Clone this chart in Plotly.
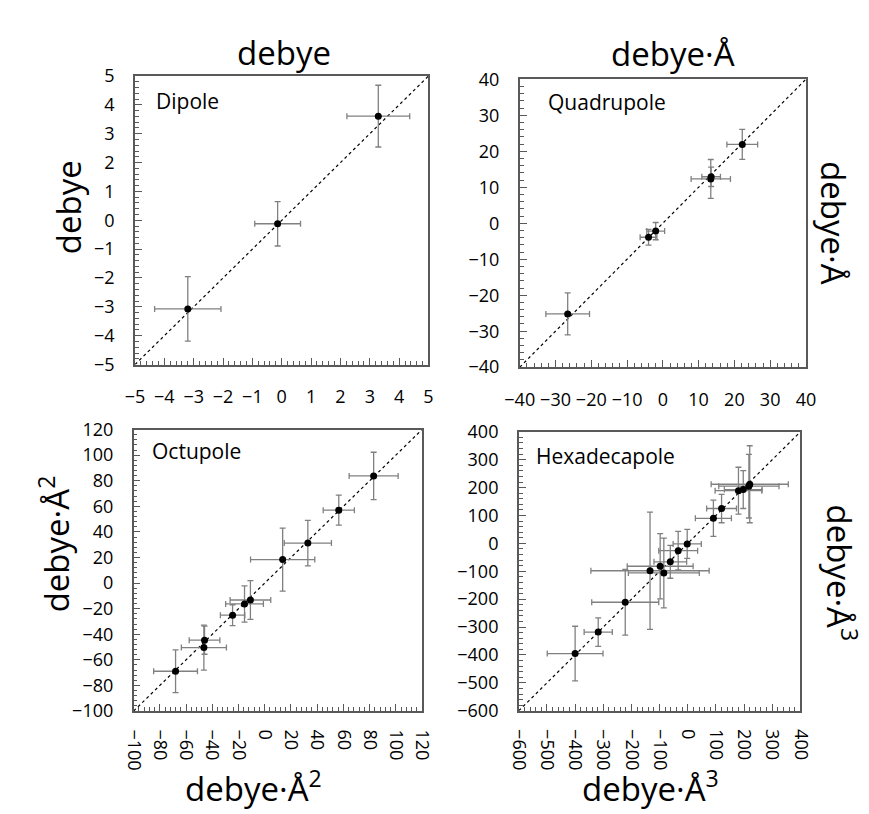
import plotly.graph_objects as go

# ---------------- data ----------------
dip_x = [-3.20, -0.14, 3.29]
dip_y = [-3.07, -0.12, 3.61]
dip_xe = [1.13, 0.78, 1.07]
dip_ye = [1.12, 0.77, 1.07]

quad_x = [-26.6, -4.0, -2.0, 13.4, 13.5, 22.2]
quad_y = [-25.2, -3.9, -2.2, 12.3, 12.9, 21.9]
quad_xe = [6.1, 2.35, 2.5, 5.5, 2.6, 4.3]
quad_ye = [5.85, 2.2, 2.4, 5.4, 2.7, 4.15]

oct_x = [-68.0, -46.4, -45.9, -24.5, -15.4, -10.9, 13.7, 32.9, 56.5, 83.1]
oct_y = [-68.9, -50.4, -44.6, -25.1, -16.3, -13.2, 18.4, 31.3, 57.0, 83.8]
oct_xe = [16.7, 17.2, 11.7, 9.3, 14.4, 15.5, 24.5, 18.0, 11.9, 18.7]
oct_ye = [16.7, 17.6, 11.0, 8.2, 14.2, 15.2, 24.6, 17.8, 11.7, 18.5]

hex_x = [-400, -318, -222, -134, -98, -85, -62, -34, -2, 91, 120, 180, 197, 217, 220]
hex_y = [-395, -318, -211, -98, -82, -106, -66, -26, -2, 90, 125, 189, 193, 205, 212]
hex_xe = [99, 50, 119, 210, 117, 126, 58, 69, 50, 64, 53, 83, 67, 107, 137]
hex_ye = [98, 51, 118, 210, 117, 125, 59, 69, 52, 65, 51, 84, 68, 114, 138]

panel_names = ["Dipole", "Quadrupole", "Octupole", "Hexadecapole"]
ranges = [[-5, 5], [-40, 40], [-100, 120], [-600, 400]]
major = [1, 10, 20, 100]
minor = [0.2, 2, 4, 20]

W, H = 869, 814
# plot boxes in pixels: left, right, top, bottom
boxes = [(115.7, 419.0, 56.7, 354.0),
         (513.3, 809.0, 60.0, 356.7),
         (114.3, 412.3, 421.0, 711.0),
         (512.3, 803.3, 423.3, 710.7)]
label_pos = [(0.064, 0.913), (0.090, 0.921), (0.056, 0.923), (0.055, 0.915)]

FONT = "Open Sans"
AXC = "#595959"
ERRC = "#808080"

fig = go.Figure()
series = [(dip_x, dip_y, dip_xe, dip_ye), (quad_x, quad_y, quad_xe, quad_ye),
          (oct_x, oct_y, oct_xe, oct_ye), (hex_x, hex_y, hex_xe, hex_ye)]

layout = dict()
annotations = []
for i, ((xs, ys, xe, ye), rng, b) in enumerate(zip(series, ranges, boxes)):
    n = "" if i == 0 else str(i + 1)
    xa, ya = "x" + n, "y" + n
    # diagonal y = x
    fig.add_trace(go.Scatter(x=rng, y=rng, mode="lines", xaxis=xa, yaxis=ya,
                             line=dict(color="black", width=1.2, dash="dot"),
                             hoverinfo="skip", showlegend=False))
    fig.add_trace(go.Scatter(
        x=xs, y=ys, mode="markers", xaxis=xa, yaxis=ya, showlegend=False,
        marker=dict(color="black", size=7),
        error_x=dict(type="data", array=xe, color=ERRC, thickness=1.3, width=3),
        error_y=dict(type="data", array=ye, color=ERRC, thickness=1.3, width=3)))
    l, r, t, btm = b
    common = dict(range=rng, dtick=major[i], tick0=rng[0], showline=True, mirror=True,
                  linecolor=AXC, linewidth=1.5, ticks="inside", ticklen=7,
                  tickcolor=AXC, tickwidth=1.2, showgrid=False, zeroline=False,
                  tickfont=dict(family=FONT, size=18, color="black"),
                  minor=dict(ticks="inside", ticklen=4, dtick=minor[i],
                             tickcolor=AXC, tickwidth=1, showgrid=False),
                  ticklabelstandoff=15)
    xdict = dict(common, domain=[l / W, r / W], anchor=ya)
    if i >= 2:
        xdict["tickangle"] = 90
        xdict["ticklabelstandoff"] = 13
    ydict = dict(common, domain=[1 - btm / H, 1 - t / H], anchor=xa)
    layout["xaxis" + n] = xdict
    layout["yaxis" + n] = ydict
    lx, ly = label_pos[i]
    annotations.append(dict(text=panel_names[i], xref=xa + " domain", yref=ya + " domain",
                            x=lx, y=ly, xanchor="left", yanchor="middle", showarrow=False,
                            font=dict(family=FONT, size=21, color="black")))

TF = dict(family=FONT, size=33, color="black")
titles = [
    ("debye", 270, 32, 0),
    ("debye·Å", 671.7, 33, 0),
    ("debye", 46.7, 191.7, -90),
    ("debye·Å", 836.7, 208, 90),
    ("debye·Å<sup>2</sup>", 32.3, 539, -90),
    ("debye·Å<sup>2</sup>", 238, 789, 0),
    ("debye·Å<sup>3</sup>", 648, 789, 0),
    ("debye·Å<sup>3</sup>", 846, 569, 90),
]
for txt, px, py, ang in titles:
    annotations.append(dict(text=txt, xref="paper", yref="paper", x=px / W, y=1 - py / H,
                            xanchor="center", yanchor="middle", showarrow=False,
                            textangle=ang, font=TF))

fig.update_layout(width=W, height=H, margin=dict(l=0, r=0, t=0, b=0),
                  paper_bgcolor="white", plot_bgcolor="white",
                  annotations=annotations, **layout)
fig.write_html("out.html")
